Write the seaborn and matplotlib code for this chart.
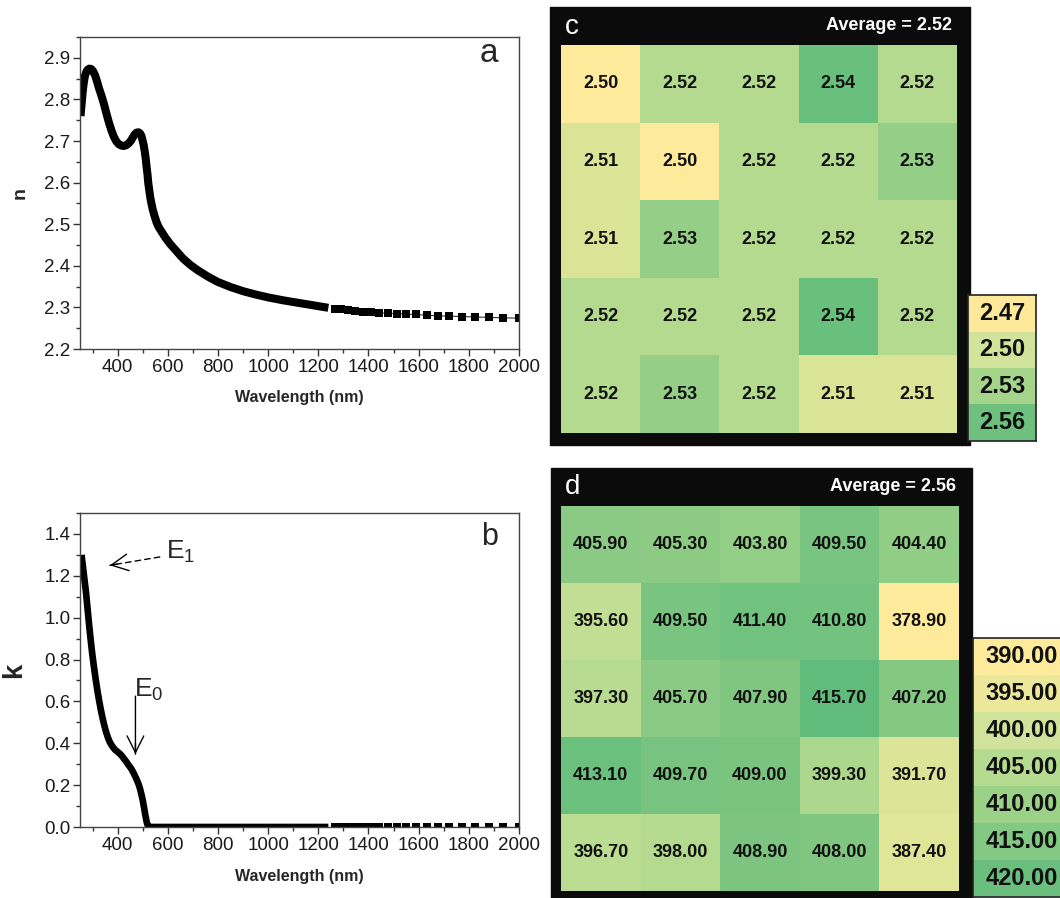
import numpy as np
import pandas as pd
import matplotlib
matplotlib.use("Agg")
import matplotlib.pyplot as plt
from matplotlib.colors import LinearSegmentedColormap
from matplotlib.patches import Rectangle
from matplotlib.ticker import MultipleLocator, FormatStrFormatter
import seaborn as sns

# ---- panel a: refractive index n ----
wl_n = [252, 255, 258, 261, 264, 267, 270, 275, 280, 287, 295, 302, 310, 317, 325, 335,
        345, 355, 365, 375, 385, 395, 405, 415, 425, 435, 445, 452, 460, 467, 475, 483,
        490, 495, 500, 504, 508, 512, 515, 519, 522, 526, 530, 535, 540, 547, 555, 562,
        570, 590, 610, 635, 660, 690, 720, 760, 800, 850, 900, 950, 1000, 1060, 1120,
        1180, 1240]
n_vals = [2.76, 2.78, 2.80, 2.82, 2.835, 2.848, 2.857, 2.866, 2.871, 2.874, 2.873, 2.868,
          2.858, 2.845, 2.828, 2.81, 2.79, 2.767, 2.745, 2.726, 2.71, 2.699, 2.692, 2.689,
          2.688, 2.69, 2.695, 2.70, 2.708, 2.715, 2.72, 2.721, 2.718, 2.712, 2.70, 2.69,
          2.675, 2.658, 2.64, 2.62, 2.60, 2.582, 2.565, 2.549, 2.535, 2.52, 2.505, 2.495,
          2.487, 2.468, 2.452, 2.435, 2.418, 2.402, 2.389, 2.374, 2.361, 2.349, 2.339,
          2.331, 2.324, 2.317, 2.311, 2.305, 2.299]

# sparse long-wavelength points (shared by a and b)
wl_tail = [1265, 1292, 1319, 1348, 1378, 1409, 1442, 1476, 1512, 1550, 1590, 1632,
           1676, 1722, 1771, 1824, 1879, 1937, 2000]
n_tail = [2.297, 2.295, 2.293, 2.291, 2.290, 2.289, 2.287, 2.286, 2.285, 2.284, 2.283,
          2.281, 2.280, 2.279, 2.278, 2.277, 2.276, 2.275, 2.274]

# ---- panel b: extinction coefficient k ----
wl_k = [256, 265, 274, 280, 286, 292, 298, 305, 312, 319, 326, 333, 341, 348, 355, 362,
        369, 379, 389, 399, 409, 418, 426, 434, 441, 448, 455, 461, 466, 472, 478, 484,
        489, 493, 497, 501, 504, 507, 510, 513, 516, 519, 522, 526, 600, 800, 1000, 1240]
k_vals = [1.30, 1.21, 1.12, 1.045, 0.97, 0.90, 0.835, 0.77, 0.71, 0.655, 0.605, 0.56,
          0.515, 0.48, 0.45, 0.425, 0.405, 0.385, 0.37, 0.36, 0.35, 0.338, 0.325, 0.313,
          0.30, 0.289, 0.277, 0.264, 0.252, 0.237, 0.221, 0.203, 0.184, 0.165, 0.145,
          0.122, 0.102, 0.081, 0.06, 0.041, 0.023, 0.011, 0.004, 0.0, 0.0, 0.0, 0.0, 0.0]
k_tail = [0.0, 0.0, 0.0, 0.0, 0.0, 0.0, 0.0, 0.0, 0.0, 0.0, 0.0, 0.0, 0.0, 0.0, 0.0,
          0.0, 0.0, 0.0, 0.0]

# ---- panel c: n map ----
map_c = [[2.50, 2.52, 2.52, 2.54, 2.52],
         [2.51, 2.50, 2.52, 2.52, 2.53],
         [2.51, 2.53, 2.52, 2.52, 2.52],
         [2.52, 2.52, 2.52, 2.54, 2.52],
         [2.52, 2.53, 2.52, 2.51, 2.51]]
legend_c = [2.47, 2.50, 2.53, 2.56]

# ---- panel d: thickness map ----
map_d = [[405.90, 405.30, 403.80, 409.50, 404.40],
         [395.60, 409.50, 411.40, 410.80, 378.90],
         [397.30, 405.70, 407.90, 415.70, 407.20],
         [413.10, 409.70, 409.00, 399.30, 391.70],
         [396.70, 398.00, 408.90, 408.00, 387.40]]
legend_d = [390.0, 395.0, 400.0, 405.0, 410.0, 415.0, 420.0]

sns.set_style("white")
plt.rcParams["font.family"] = ["Liberation Sans", "DejaVu Sans"]
plt.rcParams["mathtext.fontset"] = "custom"
plt.rcParams["mathtext.rm"] = "Liberation Sans"
plt.rcParams["mathtext.it"] = "Liberation Sans:italic"

W, H = 1060, 898
fig = plt.figure(figsize=(W / 100, H / 100), dpi=100)


def box(x0, y0, x1, y1):
    return [x0 / W, 1 - y1 / H, (x1 - x0) / W, (y1 - y0) / H]


def style_curve_axes(ax, ymin, ymax, ymajor, yminor):
    ax.set_xlim(250, 2000)
    ax.set_ylim(ymin, ymax)
    ax.xaxis.set_major_locator(MultipleLocator(200))
    ax.xaxis.set_minor_locator(MultipleLocator(100))
    ax.yaxis.set_major_locator(MultipleLocator(ymajor))
    ax.yaxis.set_minor_locator(MultipleLocator(yminor))
    ax.yaxis.set_major_formatter(FormatStrFormatter("%.1f"))
    ax.tick_params(which="both", direction="out", color="#333", width=1,
                   bottom=True, left=True, top=False, right=False,
                   labelsize=13.5, labelcolor="#1a1a1a", pad=2)
    ax.tick_params(which="major", length=5)
    ax.tick_params(which="minor", length=3)
    for sp in ax.spines.values():
        sp.set_color("#444")
        sp.set_linewidth(1)
    ax.set_xlabel("Wavelength (nm)", fontsize=11.5, fontweight="bold")


def arrow(ax, start, end, head_from, dashed):
    # shaft
    ax.annotate("", xy=end, xytext=start,
                arrowprops=dict(arrowstyle="-", lw=1, color="black",
                                ls=(0, (4, 3)) if dashed else "-",
                                shrinkA=0, shrinkB=0))
    # open head, solid
    ax.annotate("", xy=end, xytext=head_from,
                arrowprops=dict(arrowstyle="->,head_length=0.6,head_width=0.3",
                                lw=1, color="black", mutation_scale=20,
                                shrinkA=0, shrinkB=0))


# panel a
ax_a = fig.add_axes(box(80, 37, 519, 349))
sns.lineplot(x=wl_n, y=n_vals, ax=ax_a, color="black", lw=5.8, sort=False,
             solid_capstyle="butt", solid_joinstyle="round")
sns.lineplot(x=wl_tail, y=n_tail, ax=ax_a, color="#333", lw=0.8, marker="s",
             markersize=5.5, markerfacecolor="black", markeredgewidth=0, sort=False)
style_curve_axes(ax_a, 2.2, 2.95, 0.1, 0.05)
ax_a.set_ylabel("n", fontsize=14, fontweight="bold")
ax_a.yaxis.set_label_coords(-0.118, 0.5)
ax_a.xaxis.set_label_coords(0.5, -0.13)
ax_a.text(0.952, 0.946, "a", transform=ax_a.transAxes, fontsize=24, ha="right",
          va="center")

# panel b
ax_b = fig.add_axes(box(80, 513, 519, 827))
sns.lineplot(x=wl_k, y=k_vals, ax=ax_b, color="black", lw=4.8, sort=False,
             solid_capstyle="butt", solid_joinstyle="round")
sns.lineplot(x=wl_tail, y=k_tail, ax=ax_b, color="#333", lw=0.8, marker="s",
             markersize=5.5, markerfacecolor="black", markeredgewidth=0, sort=False)
style_curve_axes(ax_b, 0.0, 1.5, 0.2, 0.1)
ax_b.set_ylabel("k", fontsize=20, fontweight="bold")
ax_b.yaxis.set_label_coords(-0.12, 0.5)
ax_b.xaxis.set_label_coords(0.5, -0.135)
ax_b.text(0.952, 0.924, "b", transform=ax_b.transAxes, fontsize=22, ha="right",
          va="center")
arrow(ax_b, (568, 1.29), (369, 1.25), (400, 1.256), dashed=True)
ax_b.text(594, 1.315, "E$_1$", fontsize=19, ha="left", va="center")
arrow(ax_b, (471, 0.625), (471, 0.348), (471, 0.40), dashed=False)
ax_b.text(466, 0.655, "E$_0$", fontsize=19, ha="left", va="center")

# heat map colours
cmap_c = LinearSegmentedColormap.from_list(
    "c", ["#FEEA9B", "#DAE497", "#B4DA8F", "#95CE86", "#69C07D"])
cmap_c_leg = LinearSegmentedColormap.from_list(
    "cl", ["#FEE99A", "#D2E39B", "#A5D58B", "#6DC07E"])
cmap_d = LinearSegmentedColormap.from_list(
    "d", [(0, "#FEEA9B"), (0.23, "#E0E597"), (0.34, "#DDE497"), (0.46, "#C0DE94"),
          (0.52, "#B2DA8F"), (0.68, "#93CE86"), (0.82, "#7BC480"), (0.93, "#6BC07E"),
          (1, "#61BB7B")])
cmap_d_leg = LinearSegmentedColormap.from_list(
    "dl", ["#FEEA9B", "#EBE79B", "#D1E39A", "#B5DB90", "#9CD188", "#84C983", "#6BBF7E"])

frame = "#0b0b0b"
cell_kw = {"fontsize": 13, "fontweight": "bold", "color": "#111"}
leg_kw = {"fontsize": 17, "fontweight": "bold", "color": "#111"}

# panel c
fig.add_artist(Rectangle((550 / W, 1 - 445 / H), 420 / W, 438 / H,
                         transform=fig.transFigure, color=frame, zorder=-1))
ax_c = fig.add_axes(box(561, 45, 957, 433))
sns.heatmap(pd.DataFrame(map_c), ax=ax_c, cmap=cmap_c, vmin=2.50, vmax=2.54,
            annot=True, fmt=".2f", annot_kws=cell_kw, cbar=False,
            xticklabels=False, yticklabels=False)
fig.text(565 / W, 1 - 27 / H, "c", color="white", fontsize=20, ha="left", va="center")
fig.text(952 / W, 1 - 25 / H, "Average = 2.52", color="white", fontsize=13,
         fontweight="bold", ha="right", va="center")

ax_cl = fig.add_axes(box(968, 295, 1036, 441))
sns.heatmap(pd.DataFrame({"v": legend_c}), ax=ax_cl, cmap=cmap_c_leg, vmin=2.47,
            vmax=2.56, annot=True, fmt=".2f", annot_kws=leg_kw, cbar=False,
            xticklabels=False, yticklabels=False)

# panel d
fig.add_artist(Rectangle((551 / W, 1 - 900 / H), 421 / W, 432 / H,
                         transform=fig.transFigure, color=frame, zorder=-1))
ax_d = fig.add_axes(box(561, 506, 959, 891))
sns.heatmap(pd.DataFrame(map_d), ax=ax_d, cmap=cmap_d, vmin=378.9, vmax=415.7,
            annot=True, fmt=".2f", annot_kws=cell_kw, cbar=False,
            xticklabels=False, yticklabels=False)
fig.text(565 / W, 1 - 487 / H, "d", color="white", fontsize=20, ha="left", va="center")
fig.text(956 / W, 1 - 486 / H, "Average = 2.56", color="white", fontsize=13,
         fontweight="bold", ha="right", va="center")

ax_dl = fig.add_axes(box(973, 638, 1070, 897))
sns.heatmap(pd.DataFrame({"v": legend_d}), ax=ax_dl, cmap=cmap_d_leg, vmin=390,
            vmax=420, annot=True, fmt=".2f", annot_kws=leg_kw, cbar=False,
            xticklabels=False, yticklabels=False)

for ax in (ax_cl, ax_dl):
    for sp in ax.spines.values():
        sp.set_visible(True)
        sp.set_color("#222")
        sp.set_linewidth(1.2)

fig.savefig("out.png", dpi=100)
